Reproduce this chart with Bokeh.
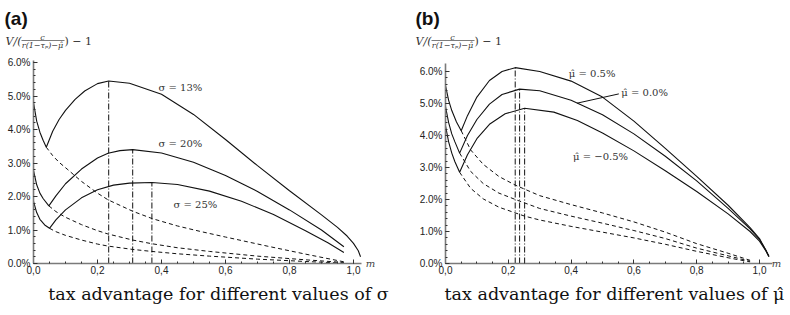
from bokeh.plotting import figure
from bokeh.layouts import row
from bokeh.models import Label, FixedTicker, Arrow
from bokeh.embed import file_html
from bokeh.resources import INLINE

# ---------------- shared ticks ----------------
m_ticks = [0.0, 0.2, 0.4, 0.6, 0.8, 1.0]
m_tick_labels = ["0,0", "0,2", "0,4", "0,6", "0,8", "1,0"]
v_ticks = [0, 1, 2, 3, 4, 5, 6]
v_tick_labels = ["0.0%", "1.0%", "2.0%", "3.0%", "4.0%", "5.0%", "6.0%"]

# ---------------- panel (a): different sigma ----------------
sig_labels = ["\u03c3 = 13%", "\u03c3 = 20%", "\u03c3 = 25%"]

a13_solid_x = [0, 0.01, 0.02, 0.03, 0.04, 0.06, 0.08, 0.10, 0.13, 0.16, 0.20, 0.235, 0.30, 0.40, 0.50,
               0.60, 0.70, 0.80, 0.90, 0.95, 0.98, 1.00, 1.015, 1.022]
a13_solid_y = [4.80, 4.25, 3.92, 3.68, 3.47, 3.95, 4.30, 4.57, 4.90, 5.15, 5.37, 5.45, 5.38, 5.05, 4.45,
               3.70, 2.92, 2.17, 1.45, 1.08, 0.82, 0.60, 0.38, 0.20]
a13_dash_x = [0.04, 0.06, 0.08, 0.105, 0.15, 0.20, 0.233, 0.31, 0.371, 0.45, 0.52, 0.60, 0.73, 0.85, 0.97]
a13_dash_y = [3.47, 3.22, 3.02, 2.82, 2.45, 2.10, 1.90, 1.56, 1.34, 1.12, 0.96, 0.79, 0.52, 0.28, 0.05]

a20_solid_x = [0, 0.01, 0.02, 0.03, 0.048, 0.07, 0.10, 0.15, 0.20, 0.233, 0.27, 0.31, 0.40, 0.50,
               0.60, 0.70, 0.80, 0.90, 0.97]
a20_solid_y = [2.78, 2.35, 2.10, 1.94, 1.72, 2.02, 2.38, 2.82, 3.15, 3.29, 3.37, 3.40, 3.30, 3.02,
               2.63, 2.15, 1.60, 1.00, 0.50]
a20_dash_x = [0.048, 0.07, 0.10, 0.15, 0.20, 0.233, 0.31, 0.37, 0.45, 0.55, 0.70, 0.85, 0.97]
a20_dash_y = [1.72, 1.55, 1.38, 1.16, 0.98, 0.88, 0.70, 0.59, 0.47, 0.36, 0.22, 0.11, 0.03]

a25_solid_x = [0, 0.01, 0.02, 0.035, 0.05, 0.07, 0.10, 0.15, 0.20, 0.25, 0.30, 0.37, 0.45, 0.55,
               0.65, 0.75, 0.85, 0.92, 0.97]
a25_solid_y = [1.85, 1.52, 1.32, 1.15, 1.05, 1.30, 1.60, 1.96, 2.20, 2.34, 2.40, 2.42, 2.36, 2.16,
               1.86, 1.46, 0.98, 0.62, 0.33]
a25_dash_x = [0.05, 0.07, 0.10, 0.15, 0.20, 0.233, 0.31, 0.37, 0.45, 0.55, 0.70, 0.85, 0.97]
a25_dash_y = [1.05, 0.95, 0.84, 0.70, 0.58, 0.52, 0.42, 0.36, 0.29, 0.22, 0.13, 0.06, 0.01]

a_peak_x = [0.235, 0.31, 0.37]
a_peak_y = [5.45, 3.40, 2.42]

# ---------------- panel (b): different mu-hat ----------------
mu_labels = ["\u03bc\u0302 = 0.5%", "\u03bc\u0302 = 0.0%", "\u03bc\u0302 = \u22120.5%"]

b05_solid_x = [0, 0.01, 0.02, 0.035, 0.05, 0.07, 0.10, 0.14, 0.18, 0.222, 0.30, 0.40, 0.50, 0.60,
               0.70, 0.80, 0.90, 0.97, 1.00, 1.02, 1.03]
b05_solid_y = [5.56, 5.10, 4.78, 4.42, 4.15, 4.62, 5.20, 5.72, 6.00, 6.12, 6.00, 5.70, 5.20, 4.45,
               3.60, 2.72, 1.82, 1.12, 0.78, 0.42, 0.22]
b05_dash_x = [0.05, 0.08, 0.12, 0.17, 0.222, 0.30, 0.40, 0.50, 0.60, 0.70, 0.80, 0.90, 0.97]
b05_dash_y = [4.15, 3.55, 3.10, 2.72, 2.45, 2.12, 1.84, 1.58, 1.30, 0.98, 0.62, 0.32, 0.10]

b00_solid_x = [0, 0.01, 0.02, 0.03, 0.045, 0.07, 0.10, 0.14, 0.18, 0.236, 0.30, 0.40, 0.50, 0.60,
               0.70, 0.80, 0.90, 0.97, 1.00, 1.02, 1.03]
b00_solid_y = [4.90, 4.40, 4.05, 3.80, 3.45, 4.00, 4.50, 4.98, 5.28, 5.45, 5.40, 5.10, 4.65, 4.05,
               3.35, 2.58, 1.72, 1.08, 0.75, 0.42, 0.22]
b00_dash_x = [0.045, 0.08, 0.12, 0.17, 0.236, 0.30, 0.40, 0.50, 0.60, 0.70, 0.80, 0.90, 0.97]
b00_dash_y = [3.45, 2.88, 2.50, 2.20, 1.95, 1.72, 1.48, 1.26, 1.03, 0.78, 0.48, 0.24, 0.07]

bm05_solid_x = [0, 0.01, 0.02, 0.03, 0.045, 0.07, 0.10, 0.14, 0.19, 0.252, 0.345, 0.42, 0.50, 0.60,
                0.70, 0.80, 0.90, 0.97, 1.00, 1.02, 1.03]
bm05_solid_y = [4.30, 3.80, 3.45, 3.18, 2.85, 3.40, 3.90, 4.35, 4.68, 4.85, 4.73, 4.47, 4.08, 3.52,
                2.90, 2.25, 1.55, 1.00, 0.70, 0.40, 0.22]
bm05_dash_x = [0.045, 0.08, 0.12, 0.17, 0.252, 0.30, 0.40, 0.50, 0.60, 0.70, 0.80, 0.90, 0.97]
bm05_dash_y = [2.85, 2.35, 2.02, 1.76, 1.48, 1.36, 1.16, 0.98, 0.80, 0.60, 0.38, 0.18, 0.05]

b_peak_x = [0.222, 0.236, 0.252]
b_peak_y = [6.12, 5.45, 4.85]

leader_x = [0.419, 0.552]
leader_y = [5.01, 5.30]

# ---------------- helpers ----------------
INK = "#111111"
DASHDOT = "6 2 1 2"
H = 315
PAGE_TOP = 0


def make_fig(width, x0_px, px_per_x, xmax, y0_px, px_per_y, ymax):
    """Frame covers the whole canvas; axes sit at x=0 / y=0 via fixed_location."""
    xr = (-x0_px / px_per_x, (width - x0_px) / px_per_x)
    yr = (-(H - y0_px) / px_per_y, y0_px / px_per_y)
    p = figure(width=width, height=H, x_range=xr, y_range=yr,
               output_backend="svg", toolbar_location=None,
               min_border_left=0, min_border_right=0,
               min_border_top=0, min_border_bottom=0)
    p.grid.visible = False
    p.outline_line_color = None
    p.background_fill_color = "white"
    p.border_fill_color = "white"

    xa = p.xaxis[0]
    xa.fixed_location = 0
    xa.bounds = (0, xmax)
    xa.ticker = FixedTicker(ticks=m_ticks,
                            minor_ticks=[i * 0.05 for i in range(0, 21)])
    xa.major_label_overrides = {t: s for t, s in zip(m_ticks, m_tick_labels)}
    ya = p.yaxis[0]
    ya.fixed_location = 0
    ya.bounds = (0, ymax)
    ya.ticker = FixedTicker(ticks=v_ticks,
                            minor_ticks=[i * 0.2 for i in range(0, 31)])
    ya.major_label_overrides = {t: s for t, s in zip(v_ticks, v_tick_labels)}
    for ax in (xa, ya):
        ax.axis_line_color = "#7a7a7a"
        ax.axis_line_width = 1.6
        ax.major_tick_in = 4
        ax.major_tick_out = 0
        ax.minor_tick_in = 2
        ax.minor_tick_out = 0
        ax.major_tick_line_color = "#333333"
        ax.minor_tick_line_color = "#333333"
        ax.major_label_text_font = "Liberation Sans"
        ax.major_label_text_font_size = "10px"
        ax.major_label_text_color = "#222222"
    xa.major_label_standoff = 2
    ya.major_label_standoff = 3
    return p


def lab(p, text, x, y, units="screen", size="10px", font="DejaVu Serif",
        style="normal", color="#222222", align="left", baseline="middle"):
    p.add_layout(Label(x=x, y=y, x_units=units, y_units=units, text=text,
                       text_font=font, text_font_size=size, text_font_style=style,
                       text_color=color, text_align=align, text_baseline=baseline))


def plab(p, fig_left, text, px, py, **kw):
    """label placed at page pixel position (px, py)"""
    lab(p, text, px - fig_left, (PAGE_TOP + H) - py, **kw)


def ytitle(p, fig_left, px0):
    # V/( c / (r(1-tau_p)-mu) ) - 1  drawn as a small stacked fraction
    col = "#333333"
    plab(p, fig_left, "V/(", px0, 41, size="11px", style="italic", color=col)
    plab(p, fig_left, "c", px0 + 37, 36.5, size="8px", style="italic", color=col, align="center")
    plab(p, fig_left, "r(1\u2212\u03c4\u209a)\u2212\u03bc\u0302", px0 + 37, 44.5, size="8px",
         style="italic", color=col, align="center")
    yb = (PAGE_TOP + H) - 40
    p.add_layout(Arrow(x_start=px0 + 16 - fig_left, y_start=yb, x_end=px0 + 59 - fig_left, y_end=yb,
                       start_units="screen", end_units="screen", end=None,
                       line_color="#444444", line_width=0.7))
    plab(p, fig_left, ") \u2212 1", px0 + 59, 41, size="11px", color=col)


def draw_panel(p, solids, dashes, peaks_x, peaks_y):
    for xs, ys in solids:
        p.line(xs, ys, line_color=INK, line_width=1.1)
    for xs, ys in dashes:
        p.line(xs, ys, line_color=INK, line_width=1.0, line_dash="4 3")
    p.segment(x0=peaks_x, y0=[0] * len(peaks_x), x1=peaks_x, y1=peaks_y,
              line_color=INK, line_width=1.0, line_dash=DASHDOT)


# ---------------- panel (a) ----------------
LA = 0
pa = make_fig(400, 33, 320, 1.025, 263, 33.5, 6.06)
draw_panel(pa,
           [(a13_solid_x, a13_solid_y), (a20_solid_x, a20_solid_y), (a25_solid_x, a25_solid_y)],
           [(a13_dash_x, a13_dash_y), (a20_dash_x, a20_dash_y), (a25_dash_x, a25_dash_y)],
           a_peak_x, a_peak_y)
lab(pa, sig_labels[0], 0.459, 5.26, units="data", color="#333333", align="center")
lab(pa, sig_labels[1], 0.459, 3.57, units="data", color="#333333", align="center")
lab(pa, sig_labels[2], 0.506, 1.75, units="data", color="#333333", align="center")
plab(pa, LA, "(a)", 4, 7, size="19px", font="Liberation Sans", style="bold",
     color="#111111", baseline="top")
ytitle(pa, LA, 5)
plab(pa, LA, "m", 370, 263, size="10px", style="italic", color="#444444", align="center")
plab(pa, LA, "tax advantage for different values of \u03c3", 218, 293, size="17.5px",
     color="#111111", align="center")

# ---------------- panel (b) ----------------
LB = 400
pb = make_fig(390, 45, 314, 1.04, 263, 32, 6.25)
draw_panel(pb,
           [(b05_solid_x, b05_solid_y), (b00_solid_x, b00_solid_y), (bm05_solid_x, bm05_solid_y)],
           [(b05_dash_x, b05_dash_y), (b00_dash_x, b00_dash_y), (bm05_dash_x, bm05_dash_y)],
           b_peak_x, b_peak_y)
pb.line(leader_x, leader_y, line_color=INK, line_width=1.0)
lab(pb, mu_labels[0], 0.467, 5.93, units="data", color="#333333", align="center")
lab(pb, mu_labels[1], 0.560, 5.35, units="data", color="#333333", align="left")
lab(pb, mu_labels[2], 0.494, 3.34, units="data", color="#333333", align="center")
plab(pb, LB, "(b)", 415, 7, size="19px", font="Liberation Sans", style="bold",
     color="#111111", baseline="top")
ytitle(pb, LB, 415)
plab(pb, LB, "m", 776, 263, size="10px", style="italic", color="#444444", align="center")
plab(pb, LB, "tax advantage for different values of \u03bc\u0302", 614, 293, size="17.5px",
     color="#111111", align="center")

layout = row(pa, pb)
open("out.html", "w").write(file_html(layout, INLINE))
